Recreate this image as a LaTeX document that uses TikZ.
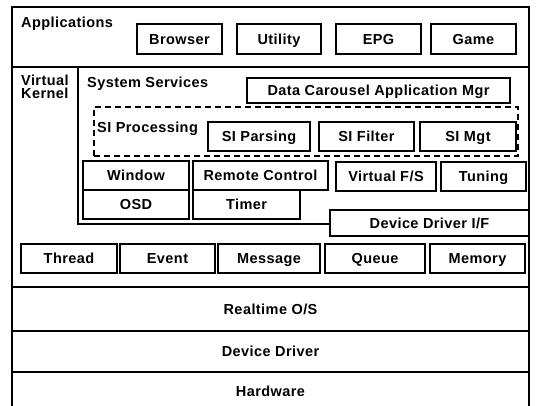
\documentclass[tikz,border=0pt]{standalone}
\usepackage{fontspec}
\setmainfont{Liberation Sans}[LetterSpace=3]
\begin{document}
\begin{tikzpicture}[x=1pt,y=-1pt,
  font=\fontsize{14.5}{16}\selectfont\bfseries,
  every node/.style={text height=10.4pt,text depth=0pt},
  layer/.style={draw=black,line width=1.3pt,fill=white,inner sep=0pt},
  unit/.style={draw=black,line width=1.7pt,fill=white,inner sep=0pt},
  group/.style={draw=black,line width=1.6pt,dash pattern=on 6pt off 4pt,inner sep=0pt},
  lbl/.style={inner sep=0pt,anchor=west}]
\useasboundingbox (0,0) rectangle (538,405);
% box from (x1,y1) to (x2,y2), text centred
\newcommand\blk[7]{%
  \node[#1,minimum width={#5pt-#3pt},minimum height={#6pt-#4pt}]
    (#2) at ({(#3+#5)/2},{(#4+#6)/2}) {#7};}
% layers
\blk{layer}{apps}{12}{7}{529}{67}{}
\blk{layer}{kern}{12}{67}{529}{287}{}
\blk{layer}{svc}{78}{67}{529}{224}{}
\blk{layer}{rtos}{12}{287}{529}{331}{Realtime O/S}
\blk{layer}{ddrv}{12}{331}{529}{372}{Device Driver}
\blk{layer}{hw}{12}{372}{529}{414}{}
\node[inner sep=0pt] (hwt) at (270.5,391) {Hardware};
% applications
\node[lbl] (appl) at (21,22) {Applications};
\blk{unit}{browser}{137}{24}{222}{54}{Browser}
\blk{unit}{utility}{237}{24}{321}{54}{Utility}
\blk{unit}{epg}{336}{24}{421}{54}{EPG}
\blk{unit}{game}{431}{24}{516}{54}{Game}
% virtual kernel
\node[lbl] (vk1) at (21,80) {Virtual};
\node[lbl] (vk2) at (21,93) {Kernel};
\node[lbl] (sys) at (87,82) {System Services};
\blk{unit}{dcam}{247}{78}{510}{103}{Data Carousel Application Mgr}
% SI processing group
\blk{group}{sigrp}{94}{107}{518}{156}{}
\node[lbl] (sip) at (97,127) {SI Processing};
\blk{unit}{sipars}{208}{122}{310}{151}{SI Parsing}
\blk{unit}{sifilt}{319}{122}{414}{151}{SI Filter}
\blk{unit}{simgt}{420}{122}{516}{151}{SI Mgt}
% services
\blk{unit}{win}{83}{161}{189}{190}{Window}
\blk{unit}{osd}{83}{190}{189}{219}{OSD}
\blk{unit}{remote}{193}{161}{328}{190}{Remote Control}
\blk{unit}{timer}{193}{190}{300}{219}{Timer}
\blk{unit}{vfs}{336}{162}{436}{191}{Virtual F/S}
\blk{unit}{tuning}{441}{162}{526}{191}{Tuning}
\blk{unit}{ddif}{330}{210}{529}{236}{Device Driver I/F}
% kernel primitives
\blk{unit}{thread}{21}{244}{117}{273}{Thread}
\blk{unit}{event}{120}{244}{215}{273}{Event}
\blk{unit}{message}{218}{244}{320}{273}{Message}
\blk{unit}{queue}{325}{244}{425}{273}{Queue}
\blk{unit}{memory}{430}{244}{525}{273}{Memory}
\end{tikzpicture}
\end{document}
